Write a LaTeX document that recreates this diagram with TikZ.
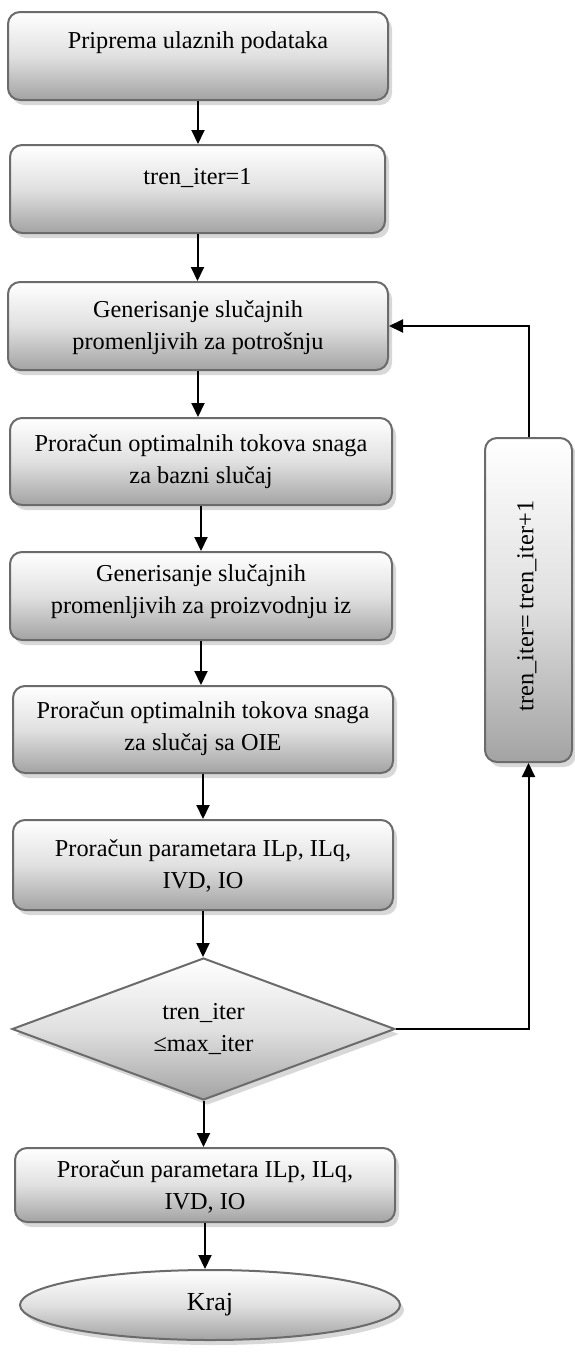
\documentclass[tikz,border=0pt]{standalone}
\usepackage{fontspec}
\setmainfont{Liberation Serif}
\usetikzlibrary{shapes.geometric,shadows,arrows.meta}
\begin{document}
\begin{tikzpicture}[x=1pt,y=-1pt,
  boxshade/.style={top color=white, bottom color=black!36, middle color=black!12},
  shad/.style={drop shadow={shadow xshift=4pt, shadow yshift=-5pt, fill=black!30, opacity=0.5}},
  stepbox/.style={rectangle, rounded corners=12pt, draw=black!58, line width=2pt, boxshade, shad, inner sep=0pt},
  txt/.style={font=\fontsize{24.3}{32}\selectfont, align=center, inner sep=0pt},
  conn/.style={line width=2pt, -{Triangle[length=14pt,width=13pt]}},
]
\useasboundingbox (0,0) rectangle (574,1352);

\node[stepbox, minimum width=380pt, minimum height=88pt] (b1) at (198,56) {};
\node[txt] (t1) at (198,43) {Priprema ulaznih podataka};

\node[stepbox, minimum width=375pt, minimum height=88pt] (b2) at (197.5,189) {};
\node[txt] (t2) at (197.5,178) {tren\_iter=1};

\node[stepbox, minimum width=380pt, minimum height=88pt] (b3) at (198,326) {};
\node[txt] (t3) at (198,328) {Generisanje slučajnih\\promenljivih za potrošnju};

\node[stepbox, minimum width=382pt, minimum height=87pt] (b4) at (201,461.5) {};
\node[txt] (t4) at (201,462) {Proračun optimalnih tokova snaga\\za bazni slučaj};

\node[stepbox, minimum width=382pt, minimum height=88pt] (b5) at (201,596) {};
\node[txt] (t5) at (201,592) {Generisanje slučajnih\\promenljivih za proizvodnju iz};

\node[stepbox, minimum width=380pt, minimum height=87pt] (b6) at (203,729.5) {};
\node[txt] (t6) at (203,729) {Proračun optimalnih tokova snaga\\za slučaj sa OIE};

\node[stepbox, minimum width=380pt, minimum height=90pt] (b7) at (203,865) {};
\node[txt] (t7) at (203,866) {Proračun parametara ILp, ILq,\\IVD, IO};

\node[diamond, draw=black!58, line width=2pt, boxshade, shad, minimum width=383pt, minimum height=142pt, inner sep=0pt] (d) at (203.5,1029) {};
\node[txt] (td) at (203.5,1029) {tren\_iter\\≤max\_iter};

\node[stepbox, minimum width=380pt, minimum height=74pt] (b8) at (205,1185) {};
\node[txt] (t8) at (205,1187) {Proračun parametara ILp, ILq,\\IVD, IO};

\node[ellipse, draw=black!58, line width=2pt, boxshade, shad, minimum width=380pt, minimum height=70pt, inner sep=0pt] (e) at (210,1305) {};
\node[txt, font=\fontsize{26}{32}\selectfont] (te) at (210,1305) {Kraj};

\node[stepbox, minimum width=87pt, minimum height=324pt] (r) at (528.5,600) {};
\node[txt, rotate=90] (tr) at (527,606) {tren\_iter= tren\_iter+1};

\draw[conn] (b1.south) -- (b1.south |- b2.north);
\draw[conn] (b2.south) -- (b2.south |- b3.north);
\draw[conn] (b3.south) -- (b3.south |- b4.north);
\draw[conn] (b4.south) -- (b4.south |- b5.north);
\draw[conn] (b5.south) -- (b5.south |- b6.north);
\draw[conn] (b6.south) -- (b6.south |- b7.north);
\draw[conn] (b7.south) -- (b7.south |- d.north);
\draw[conn] (d.south) -- (d.south |- b8.north);
\draw[conn] (b8.south) -- (b8.south |- e.north);
\draw[conn] (d.east) -| (r.south);
\draw[conn] (r.north) |- (b3.east);
\end{tikzpicture}
\end{document}
